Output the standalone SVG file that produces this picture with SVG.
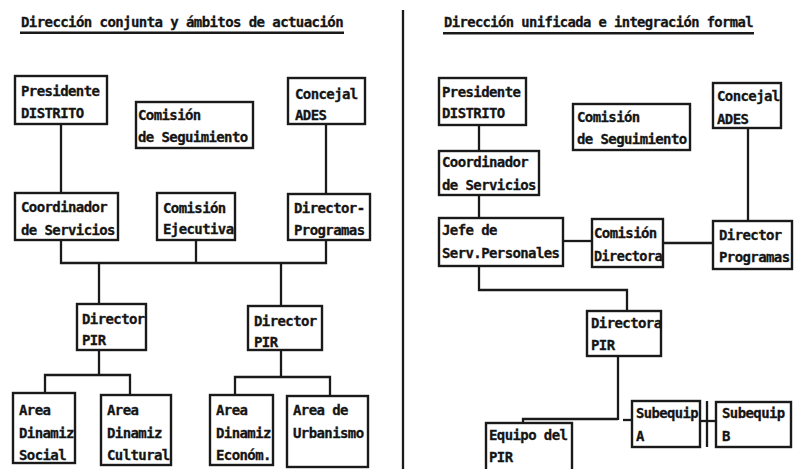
<svg xmlns="http://www.w3.org/2000/svg" width="794" height="469" viewBox="0 0 794 469">
<style>
text{font-family:"DejaVu Sans Mono","Liberation Mono",monospace;font-weight:bold;font-size:14px;letter-spacing:-0.6px;fill:#151515;stroke:#151515;stroke-width:0.3}
.box{fill:none;stroke:#1a1a1a;stroke-width:2.4}
.ln{fill:none;stroke:#1a1a1a;stroke-width:2.3}
.ul{fill:#1a1a1a}
</style>
<rect width="794" height="469" fill="#ffffff"/>
<g id="titles">
<text x="21" y="27" textLength="322" lengthAdjust="spacingAndGlyphs">Dirección conjunta y ámbitos de actuación</text>
<rect class="ul" x="20" y="31.5" width="324" height="2.5"/>
<text x="444" y="27" textLength="309" lengthAdjust="spacingAndGlyphs">Dirección unificada e integración formal</text>
<rect class="ul" x="443" y="32" width="311" height="2.5"/>
</g>
<g id="connectors">
<path class="ln" d="M403,10 V469" stroke-width="2.8"/>
<path class="ln" d="M61,124 V193"/>
<path class="ln" d="M326,124 V194"/>
<path class="ln" d="M61,240 V263 H326 V240"/>
<path class="ln" d="M196,240 V263"/>
<path class="ln" d="M99,263 V304"/>
<path class="ln" d="M281,263 V306"/>
<path class="ln" d="M99,350 V375"/>
<path class="ln" d="M45,393 V375 H130 V395"/>
<path class="ln" d="M281,350 V377"/>
<path class="ln" d="M235,395 V377 H330 V396"/>
<path class="ln" d="M479,125 V151"/>
<path class="ln" d="M479,195 V218"/>
<path class="ln" d="M563,241 H592"/>
<path class="ln" d="M663,243 H713"/>
<path class="ln" d="M748,128 V221"/>
<path class="ln" d="M479,266 V290 H627 V311"/>
<path class="ln" d="M618,356 V420"/>
<path class="ln" d="M523,423 V419 H618"/>
<path class="ln" d="M623,420 H632"/>
<path class="ln" d="M707,401 V447"/>
<path class="ln" d="M700,421 H716"/>
</g>
<g id="n-presidente-l"><rect class="box" x="15" y="76" width="92" height="48"/><text x="21" y="96">Presidente</text><text x="21" y="118">DISTRITO</text></g>
<g id="n-comision-seg-l"><rect class="box" x="136" y="102" width="117" height="46"/><text x="138" y="120">Comisión</text><text x="138" y="142">de Seguimiento</text></g>
<g id="n-concejal-l"><rect class="box" x="288" y="78" width="77" height="46"/><text x="295" y="99">Concejal</text><text x="295" y="120">ADES</text></g>
<g id="n-coordinador-l"><rect class="box" x="15" y="193" width="103" height="47"/><text x="21" y="212">Coordinador</text><text x="21" y="235">de Servicios</text></g>
<g id="n-comision-ejec-l"><rect class="box" x="157" y="193" width="78" height="47"/><text x="163" y="213">Comisión</text><text x="163" y="234">Ejecutiva</text></g>
<g id="n-director-prog-l"><rect class="box" x="288" y="194" width="82" height="46"/><text x="294" y="213">Director-</text><text x="294" y="235">Programas</text></g>
<g id="n-director-pir-l1"><rect class="box" x="77" y="304" width="69" height="46"/><text x="82" y="324">Director</text><text x="82" y="345">PIR</text></g>
<g id="n-director-pir-l2"><rect class="box" x="248" y="306" width="74" height="44"/><text x="254" y="326">Director</text><text x="254" y="347">PIR</text></g>
<g id="n-area-social"><rect class="box" x="13" y="393" width="62" height="70"/><text x="19" y="415">Area</text><text x="19" y="438">Dinamiz</text><text x="19" y="460">Social</text></g>
<g id="n-area-cultural"><rect class="box" x="101" y="395" width="70" height="70"/><text x="107" y="415">Area</text><text x="107" y="438">Dinamiz</text><text x="107" y="460">Cultural</text></g>
<g id="n-area-econom"><rect class="box" x="210" y="395" width="63" height="70"/><text x="216" y="415">Area</text><text x="216" y="438">Dinamiz</text><text x="216" y="460">Económ.</text></g>
<g id="n-area-urbanismo"><rect class="box" x="287" y="396" width="81" height="71"/><text x="293" y="415">Area de</text><text x="293" y="438">Urbanismo</text></g>
<g id="n-presidente-r"><rect class="box" x="439" y="78" width="87" height="47"/><text x="442" y="97">Presidente</text><text x="442" y="118">DISTRITO</text></g>
<g id="n-comision-seg-r"><rect class="box" x="573" y="104" width="117" height="46"/><text x="577" y="122">Comisión</text><text x="577" y="144">de Seguimiento</text></g>
<g id="n-concejal-r"><rect class="box" x="713" y="83" width="68" height="45"/><text x="717" y="101">Concejal</text><text x="717" y="124">ADES</text></g>
<g id="n-coordinador-r"><rect class="box" x="439" y="151" width="100" height="44"/><text x="442" y="167">Coordinador</text><text x="442" y="190">de Servicios</text></g>
<g id="n-jefe"><rect class="box" x="439" y="218" width="124" height="48"/><text x="442" y="235">Jefe de</text><text x="442" y="258">Serv.Personales</text></g>
<g id="n-comision-dir"><rect class="box" x="592" y="219" width="71" height="48"/><text x="594" y="238">Comisión</text><text x="594" y="261" textLength="68" lengthAdjust="spacingAndGlyphs">Directora</text></g>
<g id="n-director-prog-r"><rect class="box" x="713" y="221" width="79" height="48"/><text x="719" y="240">Director</text><text x="719" y="262">Programas</text></g>
<g id="n-directora-pir"><rect class="box" x="587" y="311" width="74" height="45"/><text x="591" y="328">Directora</text><text x="591" y="350">PIR</text></g>
<g id="n-equipo-pir"><rect class="box" x="486" y="423" width="86" height="50"/><text x="489" y="440">Equipo del</text><text x="489" y="462">PIR</text></g>
<g id="n-subequip-a"><rect class="box" x="632" y="401" width="68" height="46"/><text x="636" y="418" textLength="62" lengthAdjust="spacingAndGlyphs">Subequip</text><text x="636" y="441">A</text></g>
<g id="n-subequip-b"><rect class="box" x="716" y="402" width="75" height="45"/><text x="722" y="418">Subequip</text><text x="722" y="441">B</text></g>
</svg>
